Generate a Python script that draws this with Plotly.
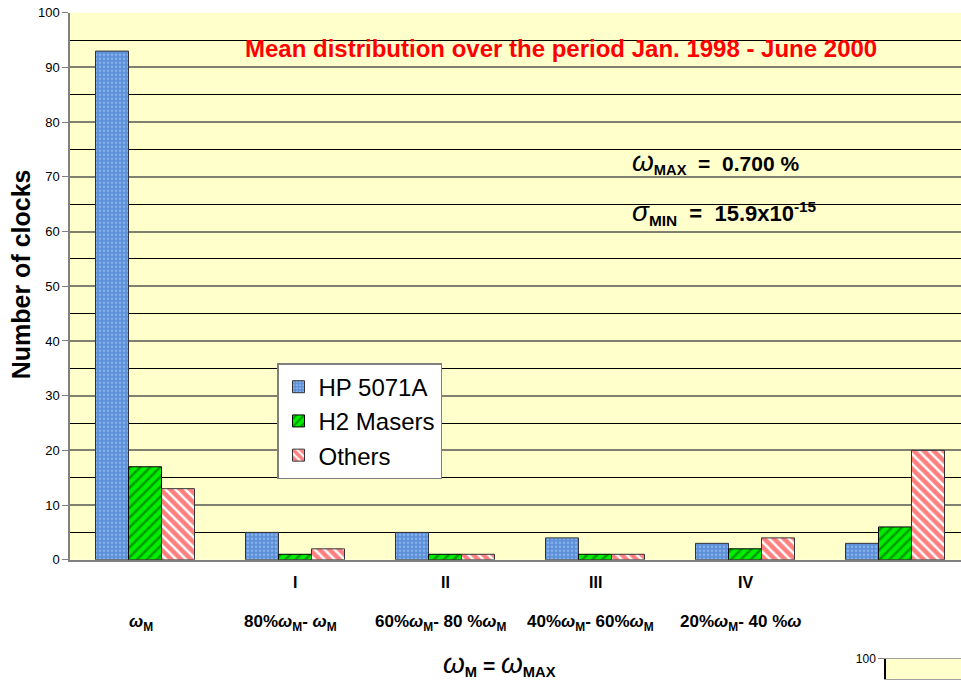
import plotly.graph_objects as go

# ---- data ----
categories = [0, 1, 2, 3, 4, 5]
roman_labels = ["", "I", "II", "III", "IV", ""]
range_labels = [
    "<i>ω</i><sub>M</sub>",
    "80%<i>ω</i><sub>M</sub>- <i>ω</i><sub>M</sub>",
    "60%<i>ω</i><sub>M</sub>- 80 %<i>ω</i><sub>M</sub>",
    "40%<i>ω</i><sub>M</sub>- 60%<i>ω</i><sub>M</sub>",
    "20%<i>ω</i><sub>M</sub>- 40 %<i>ω</i>",
    "",
]
hp_5071a = [93, 5, 5, 4, 3, 3]
h2_masers = [17, 1, 1, 1, 2, 6]
others = [13, 2, 1, 1, 4, 20]
y_ticks = [0, 10, 20, 30, 40, 50, 60, 70, 80, 90, 100]

W, H = 961, 687
FONT = "Liberation Sans, Arial, sans-serif"


def fy(y_img):
    """paper fraction for a target vertical pixel position in the photograph"""
    y_fig = (y_img - 6.2) / 0.98
    return 1 - y_fig / H


fig = go.Figure()
fig.add_bar(
    x=categories, y=hp_5071a, name="HP 5071A",
    marker=dict(color="#5b8fd8", line=dict(color="#333333", width=1),
                pattern=dict(shape=".", fgcolor="#b8d4ff", size=4, solidity=0.35)),
)
fig.add_bar(
    x=categories, y=h2_masers, name="H2 Masers",
    marker=dict(color="#00ee00", line=dict(color="#000000", width=1),
                pattern=dict(shape="/", fgcolor="#004400", size=7, solidity=0.35)),
)
fig.add_bar(
    x=categories, y=others, name="Others",
    marker=dict(color="#ffffff", line=dict(color="#333333", width=1),
                pattern=dict(shape="\\", fgcolor="#ff0000", size=7, solidity=0.65)),
)
# empty trace so that the small second axis (bottom right) is drawn
fig.add_scatter(x=[], y=[], xaxis="x2", yaxis="y2", showlegend=False, hoverinfo="skip")

fig.update_layout(
    width=W, height=H,
    margin=dict(l=0, r=0, t=0, b=0),
    paper_bgcolor="white",
    plot_bgcolor="#ffffcc",
    barmode="group",
    bargap=0.34,
    bargroupgap=0,
    font=dict(family=FONT, color="black", size=12),
    showlegend=True,
    legend=dict(
        x=277 / W, y=fy(363), xanchor="left", yanchor="top",
        bgcolor="white", bordercolor="#808080", borderwidth=1.5,
        font=dict(size=24, family=FONT), itemwidth=30,
        tracegroupgap=0,
    ),
    xaxis=dict(
        domain=[70 / W, 1], range=[-0.5, 5.44],
        showticklabels=False, ticks="", showgrid=False, zeroline=False,
        showline=True, linecolor="#808080", linewidth=1.5,
    ),
    yaxis=dict(
        domain=[fy(560), fy(12)], range=[0, 100], tickvals=y_ticks,
        ticks="outside", ticklen=6, tickcolor="#808080",
        tickfont=dict(size=13, family=FONT),
        showgrid=True, gridcolor="#808070", gridwidth=1.5,
        minor=dict(dtick=5, showgrid=True, gridcolor="#000000", gridwidth=1, ticks=""),
        zeroline=False, showline=True, linecolor="#808080", linewidth=1.5,
    ),
    xaxis2=dict(
        domain=[886 / W, 1], anchor="y2", range=[0, 1],
        showticklabels=False, ticks="", showgrid=False, zeroline=False,
        showline=True, mirror=True, linecolor="#a0a0a0",
    ),
    yaxis2=dict(
        domain=[0, fy(659)], anchor="x2", range=[90, 100],
        tickvals=[100], ticks="outside", ticklen=6, tickcolor="#808080",
        tickfont=dict(size=12, family=FONT), showgrid=False, zeroline=False,
        showline=True, linecolor="#000000", linewidth=1.5,
    ),
)

ann = []
for c, r, t in zip(categories, roman_labels, range_labels):
    if r:
        ann.append(dict(x=c, y=fy(583), xref="x", yref="paper", text="<b>" + r + "</b>",
                        showarrow=False, font=dict(size=16, family=FONT), xanchor="center", yanchor="middle"))
    if t:
        ann.append(dict(x=c - 0.03, y=fy(623), xref="x", yref="paper", text="<b>" + t + "</b>",
                        showarrow=False, font=dict(size=17, family=FONT), xanchor="center", yanchor="middle"))

ann += [
    dict(x=561 / W, y=fy(48), xref="paper", yref="paper",
         text="<b>Mean distribution over the period Jan. 1998 - June 2000</b>",
         showarrow=False, font=dict(size=24, color="#ff0000", family=FONT), xanchor="center", yanchor="middle"),
    dict(x=630 / W, y=fy(161), xref="paper", yref="paper",
         text="<i><span style='font-size:28px'>ω</span></i><b><sub>MAX</sub>  =  0.700 %</b>",
         showarrow=False, font=dict(size=21, family=FONT), xanchor="left", yanchor="middle"),
    dict(x=630 / W, y=fy(212), xref="paper", yref="paper",
         text="<i><span style='font-size:28px'>σ</span></i><b><sub>MIN</sub>  =  15.9x10<sup>-15</sup></b>",
         showarrow=False, font=dict(size=22, family=FONT), xanchor="left", yanchor="middle"),
    dict(x=21 / W, y=fy(274), xref="paper", yref="paper",
         text="<b>Number of clocks</b>", textangle=-90,
         showarrow=False, font=dict(size=25, family=FONT), xanchor="center", yanchor="middle"),
    dict(x=500 / W, y=fy(664), xref="paper", yref="paper",
         text="<i><span style='font-size:28px'>ω</span></i><b><sub>M</sub> = </b><i><span style='font-size:28px'>ω</span></i><b><sub>MAX</sub></b>",
         showarrow=False, font=dict(size=21, family=FONT), xanchor="center", yanchor="middle"),
]
fig.update_layout(annotations=ann)

post = (
    "document.documentElement.style.margin='0';"
    "document.documentElement.style.overflow='hidden';"
    "document.body.style.margin='0';"
    "document.body.style.overflow='hidden';"
    "var d=document.getElementById('{plot_id}');"
    "d.style.position='fixed';d.style.top='0px';d.style.left='0px';"
)
fig.write_html("out.html", config={"displayModeBar": False}, post_script=post)
